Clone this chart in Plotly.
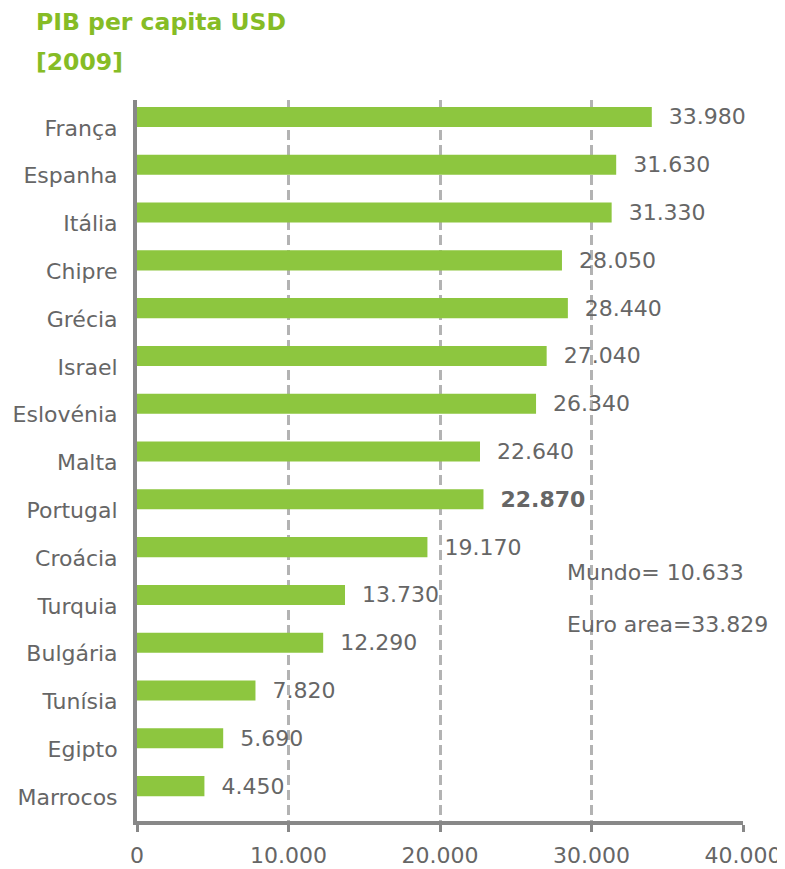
import plotly.graph_objects as go

countries = ["França", "Espanha", "Itália", "Chipre", "Grécia", "Israel", "Eslovénia",
             "Malta", "Portugal", "Croácia", "Turquia", "Bulgária", "Tunísia", "Egipto", "Marrocos"]
gdp = [33980, 31630, 31330, 28050, 28440, 27040, 26340, 22640, 22870, 19170, 13730, 12290, 7820, 5690, 4450]
highlight = "Portugal"
x_ticks = [0, 10000, 20000, 30000, 40000]
x_ticktext = ["0", "10.000", "20.000", "30.000", "40.000"]
title_lines = ["PIB per capita USD", "[2009]"]
notes = ["Mundo= 10.633", "Euro area=33.829"]

GREEN = "#8DC63F"
TITLE_GREEN = "#86BC25"
TEXT = "#666666"
AXIS = "#888888"
GRID = "#B3B3B3"
FONT = "DejaVu Sans"


def fmt(v):
    return f"{v:,}".replace(",", ".")


labels = []
for c, v in zip(countries, gdp):
    s = "\u00a0\u00a0" + fmt(v)
    if c == highlight:
        s = "\u00a0\u00a0<b>" + fmt(v) + "</b>"
    labels.append(s)

fig = go.Figure()
fig.add_trace(go.Bar(
    y=countries, x=gdp, orientation="h",
    marker=dict(color=GREEN, line=dict(width=0)),
    width=0.42,
    text=labels, textposition="outside", cliponaxis=False, constraintext="none",
    textfont=dict(family=FONT, size=22, color=TEXT),
    hoverinfo="skip",
))

fig.update_layout(
    width=777, height=861,
    margin=dict(l=129, r=42, t=92, b=48, autoexpand=False),
    paper_bgcolor="white", plot_bgcolor="white",
    showlegend=False,
    font=dict(family=FONT, size=22, color=TEXT),
    xaxis=dict(
        range=[0, 40000], tickvals=x_ticks, ticktext=x_ticktext,
        showgrid=True, gridcolor=GRID, gridwidth=3, griddash="10px,5px",
        showline=True, linecolor=AXIS, linewidth=4,
        ticks="outside", ticklen=7, tickwidth=3, tickcolor=AXIS,
        ticklabelstandoff=5, automargin=False,
        zeroline=False,
        tickfont=dict(family=FONT, size=22, color=TEXT),
    ),
    yaxis=dict(
        type="category", categoryorder="array", categoryarray=countries,
        range=[14.73, -0.355], automargin=False,
        showline=True, linecolor=AXIS, linewidth=4,
        showgrid=False, zeroline=False,
        ticks="", ticklabelstandoff=11, ticklabelshift=-11,
        tickfont=dict(family=FONT, size=22, color=TEXT),
    ),
)

fig.add_annotation(text=f"<b>{title_lines[0]}</b>", xref="paper", yref="paper",
                   x=-0.170, y=1.108, xanchor="left", yanchor="middle", showarrow=False,
                   font=dict(family=FONT, size=23.5, color=TITLE_GREEN))
fig.add_annotation(text=f"<b>{title_lines[1]}</b>", xref="paper", yref="paper",
                   x=-0.170, y=1.0526, xanchor="left", yanchor="middle", showarrow=False,
                   font=dict(family=FONT, size=23.5, color=TITLE_GREEN))
fig.add_annotation(text=notes[0], xref="paper", yref="paper",
                   x=(565 - 137) / 606, y=0.345, xanchor="left", yanchor="middle", showarrow=False,
                   font=dict(family=FONT, size=22, color=TEXT))
fig.add_annotation(text=notes[1], xref="paper", yref="paper",
                   x=(565 - 137) / 606, y=0.273, xanchor="left", yanchor="middle", showarrow=False,
                   font=dict(family=FONT, size=22, color=TEXT))

fig.write_html("out.html")
